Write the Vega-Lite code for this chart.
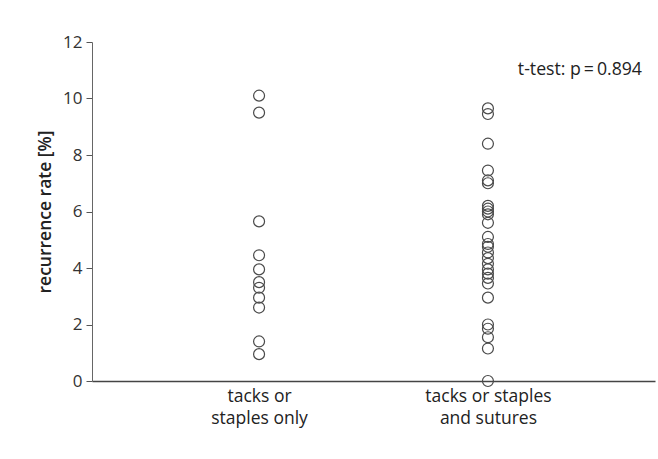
{
  "$schema": "https://vega.github.io/schema/vega-lite/v6.json",
  "width": 563,
  "height": 339,
  "autosize": {"type": "none"},
  "padding": {"left": 92, "top": 42, "right": 3, "bottom": 78},
  "background": "white",
  "config": {
    "view": {"stroke": null},
    "font": "Open Sans"
  },
  "datasets": {
    "points": [
      {"group": "tacks or staples only", "rate": 10.1},
      {"group": "tacks or staples only", "rate": 9.5},
      {"group": "tacks or staples only", "rate": 5.65},
      {"group": "tacks or staples only", "rate": 4.45},
      {"group": "tacks or staples only", "rate": 3.95},
      {"group": "tacks or staples only", "rate": 3.5},
      {"group": "tacks or staples only", "rate": 3.3},
      {"group": "tacks or staples only", "rate": 2.95},
      {"group": "tacks or staples only", "rate": 2.6},
      {"group": "tacks or staples only", "rate": 1.4},
      {"group": "tacks or staples only", "rate": 0.95},
      {"group": "tacks or staples and sutures", "rate": 9.65},
      {"group": "tacks or staples and sutures", "rate": 9.45},
      {"group": "tacks or staples and sutures", "rate": 8.4},
      {"group": "tacks or staples and sutures", "rate": 7.45},
      {"group": "tacks or staples and sutures", "rate": 7.1},
      {"group": "tacks or staples and sutures", "rate": 7.0},
      {"group": "tacks or staples and sutures", "rate": 6.2},
      {"group": "tacks or staples and sutures", "rate": 6.1},
      {"group": "tacks or staples and sutures", "rate": 6.0},
      {"group": "tacks or staples and sutures", "rate": 5.9},
      {"group": "tacks or staples and sutures", "rate": 5.6},
      {"group": "tacks or staples and sutures", "rate": 5.1},
      {"group": "tacks or staples and sutures", "rate": 4.85},
      {"group": "tacks or staples and sutures", "rate": 4.75},
      {"group": "tacks or staples and sutures", "rate": 4.55},
      {"group": "tacks or staples and sutures", "rate": 4.35},
      {"group": "tacks or staples and sutures", "rate": 4.15},
      {"group": "tacks or staples and sutures", "rate": 3.95},
      {"group": "tacks or staples and sutures", "rate": 3.8},
      {"group": "tacks or staples and sutures", "rate": 3.65},
      {"group": "tacks or staples and sutures", "rate": 3.45},
      {"group": "tacks or staples and sutures", "rate": 2.95},
      {"group": "tacks or staples and sutures", "rate": 2.0},
      {"group": "tacks or staples and sutures", "rate": 1.85},
      {"group": "tacks or staples and sutures", "rate": 1.55},
      {"group": "tacks or staples and sutures", "rate": 1.15},
      {"group": "tacks or staples and sutures", "rate": 0.0}
    ],
    "note": [
      {"group": "tacks or staples and sutures", "rate": 11.0, "label": "t-test: p\u2009=\u20090.894"}
    ]
  },
  "layer": [
    {
      "data": {"name": "points"},
      "mark": {"type": "point", "shape": "circle", "filled": false, "size": 120, "stroke": "#4a4a4a", "strokeWidth": 1.2, "opacity": 1},
      "encoding": {
        "x": {
          "field": "group", "type": "nominal",
          "scale": {"type": "point", "padding": 0.73, "domain": ["tacks or staples only", "tacks or staples and sutures"]},
          "axis": {
            "title": null,
            "labelAngle": 0,
            "ticks": false,
            "domainColor": "#444",
            "domainWidth": 1.5,
            "labelFont": "Open Sans",
            "labelFontSize": 17.5,
            "labelColor": "#222",
            "labelPadding": 6,
            "labelLineHeight": 22,
            "labelExpr": "datum.value == 'tacks or staples only' ? ['tacks or', 'staples only'] : ['tacks or staples', 'and sutures']"
          }
        },
        "y": {
          "field": "rate", "type": "quantitative",
          "scale": {"domain": [0, 12], "nice": false},
          "axis": {
            "title": "recurrence rate [%]",
            "titleFont": "Open Sans",
            "titleFontSize": 17.5,
            "titleFontWeight": 600,
            "titleColor": "#222",
            "titlePadding": 8,
            "values": [0, 2, 4, 6, 8, 10, 12],
            "grid": false,
            "tickSize": 6,
            "tickColor": "#555",
            "domainColor": "#666",
            "labelFont": "Open Sans",
            "labelFontSize": 17,
            "labelColor": "#333",
            "labelPadding": 4
          }
        }
      }
    },
    {
      "data": {"name": "note"},
      "mark": {"type": "text", "font": "Open Sans", "fontSize": 17.7, "color": "#222", "align": "center", "dx": 92},
      "encoding": {
        "x": {"field": "group", "type": "nominal"},
        "y": {"field": "rate", "type": "quantitative"},
        "text": {"field": "label"}
      }
    }
  ]
}
